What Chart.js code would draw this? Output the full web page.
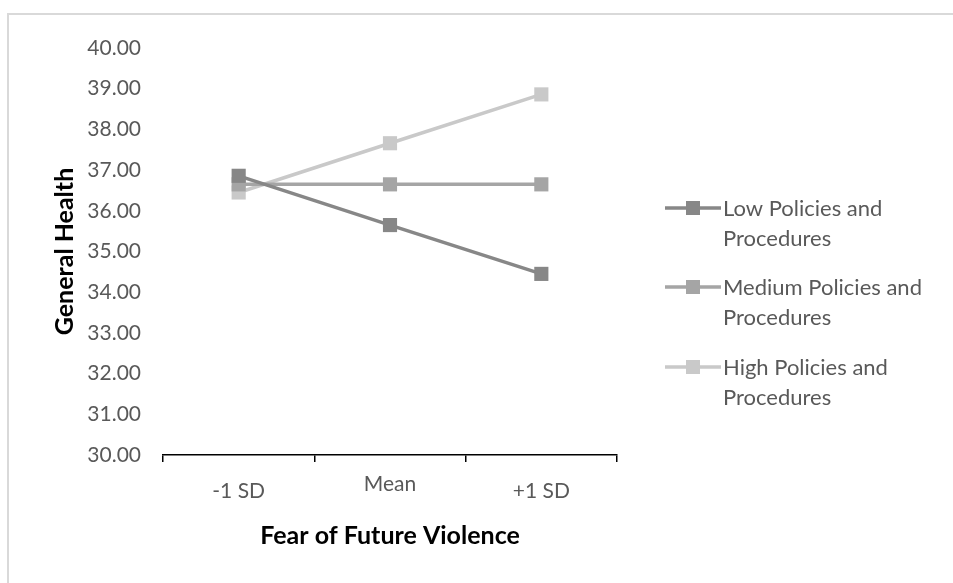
<!DOCTYPE html>
<html>
<head>
<meta charset="utf-8">
<script src="https://cdn.jsdelivr.net/npm/chart.js@4/dist/chart.umd.min.js"></script>
<style>
  html, body { margin: 0; padding: 0; background: #fff; overflow: hidden; width: 953px; height: 583px; }
  #frame { position: absolute; left: 7px; top: 13px; width: 980px; height: 620px; border: 2px solid #d9d9d9; box-sizing: border-box; }
  #c { position: absolute; left: 0; top: 0; }
</style>
</head>
<body>
<div id="frame"></div>
<canvas id="c" width="953" height="583"></canvas>
<script>
// ---- data ----
const categories = ['-1 SD', 'Mean', '+1 SD'];
const seriesNames = ['Low Policies and Procedures', 'Medium Policies and Procedures', 'High Policies and Procedures'];
const lowValues = [36.86, 35.65, 34.45];
const mediumValues = [36.65, 36.65, 36.65];
const highValues = [36.45, 37.66, 38.86];
const yTicks = [30, 31, 32, 33, 34, 35, 36, 37, 38, 39, 40];
const xTitle = 'Fear of Future Violence';
const yTitle = 'General Health';

const FONT = 'Lato, "Open Sans", sans-serif';
const colors = ['#878787', '#a5a5a5', '#c9c9c9'];
const seriesValues = [lowValues, mediumValues, highValues];

const customLegend = {
  id: 'customLegend',
  afterDraw(chart) {
    const ctx = chart.ctx;
    const startY = [208, 287, 367];
    ctx.save();
    chart.data.datasets.forEach((ds, i) => {
      const y = startY[i];
      ctx.strokeStyle = ds.borderColor;
      ctx.lineWidth = 3.5;
      ctx.beginPath();
      ctx.moveTo(665, y);
      ctx.lineTo(721, y);
      ctx.stroke();
      ctx.fillStyle = ds.backgroundColor;
      ctx.fillRect(686, y - 7, 14, 14);
      const name = ds.label;
      const idx = name.lastIndexOf(' Procedures');
      const lines = [name.slice(0, idx), name.slice(idx + 1)];
      ctx.fillStyle = '#595959';
      ctx.font = '22px ' + FONT;
      ctx.textBaseline = 'middle';
      ctx.textAlign = 'left';
      lines.forEach((t, k) => ctx.fillText(t, 723, y + 1 + k * 30));
    });
    ctx.restore();
  }
};

new Chart(document.getElementById('c'), {
  type: 'line',
  data: {
    labels: categories,
    datasets: seriesNames.map((n, i) => ({
      label: n,
      data: seriesValues[i],
      borderColor: colors[i],
      backgroundColor: colors[i],
      borderWidth: 3.5,
      pointStyle: 'rect',
      pointRadius: 10,
      pointBorderWidth: 0,
      pointHoverRadius: 10,
      tension: 0
    }))
  },
  options: {
    responsive: false,
    animation: false,
    devicePixelRatio: 1,
    layout: { padding: { left: 0, right: 336, top: 48, bottom: 0 } },
    plugins: { legend: { display: false }, tooltip: { enabled: false } },
    scales: {
      x: {
        type: 'category',
        offset: true,
        grid: { display: true, offset: true, drawOnChartArea: false, drawTicks: true, tickLength: 7, color: '#000', lineWidth: 1.5 },
        border: { display: true, color: '#000', width: 1.5 },
        ticks: {
          color: '#595959',
          padding: 17,
          font: (ctx) => ({ family: FONT, size: 21, lineHeight: ctx.index === 1 ? 0.48 : 1.2 })
        },
        title: { display: true, text: xTitle, color: '#000', font: { family: FONT, size: 25, weight: 'bold' }, padding: { top: 0, bottom: 32 } },
        afterFit(scale) { scale.height = 128; }
      },
      y: {
        min: 30,
        max: 40,
        afterBuildTicks(scale) { scale.ticks = yTicks.map(v => ({ value: v })); },
        grid: { display: false, drawTicks: false },
        border: { display: false },
        ticks: {
          color: '#595959',
          padding: 22,
          font: { family: FONT, size: 21 },
          callback: (v) => Number(v).toFixed(2)
        },
        title: { display: true, text: yTitle, color: '#000', font: { family: FONT, size: 25, weight: 'bold' }, padding: { top: 50, bottom: 0 } },
        afterFit(scale) { scale.width = 163; }
      }
    }
  },
  plugins: [customLegend]
});
</script>
</body>
</html>
